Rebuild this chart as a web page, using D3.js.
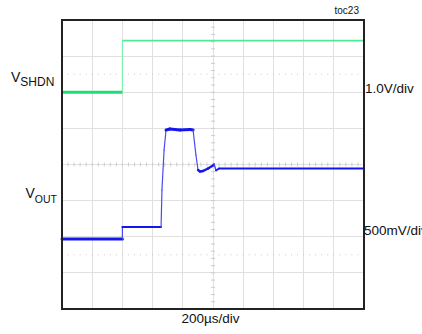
<!DOCTYPE html>
<html><head><meta charset="utf-8">
<script src="https://cdn.jsdelivr.net/npm/d3@7"></script>
<style>html,body{margin:0;padding:0;background:#fff;}svg{display:block;}</style>
</head><body>
<script>
// ---- data ----
const timeDivLabel = "200µs/div";
const shdnScaleLabel = "1.0V/div";
const outScaleLabel = "500mV/div";
const tocLabel = "toc23";
// V_SHDN trace: time (µs), volts
const shdnTime = [0, 400, 400, 2000];
const shdnVolt = [0, 0, 1.43, 1.43];
// V_OUT trace: time (µs), volts
const outTime = [0, 400, 400, 656, 662, 676, 689, 715, 781, 848, 868, 887, 901, 914, 934, 967, 1000, 1007, 1020, 1040, 2000];
const outVolt = [0, 0, 0.165, 0.165, 0.677, 1.231, 1.507, 1.521, 1.507, 1.514, 1.507, 1.161, 0.954, 0.933, 0.940, 0.975, 1.016, 1.037, 0.947, 0.975, 0.975];

// ---- layout ----
const W = 422, H = 334;
const L = 62, R = 364, T = 20, B = 309;
const nx = 10, ny = 8;
const shdnOffsetDiv = 6, shdnVPerDiv = 1.0;
const outOffsetDiv = 1.94, outVPerDiv = 0.5;

const svg = d3.select("body").append("svg").attr("width", W).attr("height", H);
const x = d3.scaleLinear().domain([0, 2000]).range([L, R]);
const xd = d3.scaleLinear().domain([0, nx]).range([L, R]);
const yd = d3.scaleLinear().domain([0, ny]).range([B, T]);

const g = svg.append("g");
// grid
g.selectAll(".vg").data(d3.range(1, nx)).join("line")
  .attr("x1", d => xd(d)).attr("x2", d => xd(d)).attr("y1", T).attr("y2", B)
  .attr("stroke", "#e0e0e0").attr("stroke-width", 1).attr("shape-rendering", "crispEdges");
g.selectAll(".hg").data(d3.range(1, ny)).join("line")
  .attr("y1", d => yd(d)).attr("y2", d => yd(d)).attr("x1", L).attr("x2", R)
  .attr("stroke", "#e0e0e0").attr("stroke-width", 1).attr("shape-rendering", "crispEdges");
// center ticks
const cx = xd(nx / 2), cy = yd(ny / 2);
g.selectAll(".tx").data(d3.range(0, nx * 5 + 1)).join("line")
  .attr("x1", d => xd(d / 5)).attr("x2", d => xd(d / 5)).attr("y1", cy - 2).attr("y2", cy + 2)
  .attr("stroke", "#cccccc").attr("stroke-width", 1);
g.selectAll(".ty").data(d3.range(0, ny * 5 + 1)).join("line")
  .attr("y1", d => yd(d / 5)).attr("y2", d => yd(d / 5)).attr("x1", cx - 2).attr("x2", cx + 2)
  .attr("stroke", "#cccccc").attr("stroke-width", 1);
// dotted lines
[1.5, 6.5].forEach(dv => {
  g.selectAll(null).data(d3.range(1, nx * 5)).join("rect")
    .attr("x", d => xd(d / 5) - 0.5).attr("y", yd(dv) - 0.5).attr("width", 1).attr("height", 1)
    .attr("fill", "#c8c8c8");
});

// traces
const line = d3.line().x(d => x(d[0])).y(d => d[1]);
const shdnPts = shdnTime.map((t, i) => [t, yd(shdnOffsetDiv + shdnVolt[i] / shdnVPerDiv)]);
const outPts = outTime.map((t, i) => [t, yd(outOffsetDiv + outVolt[i] / outVPerDiv)]);
// green: thin rising edge, light high level, thick low level
svg.append("path").attr("d", line(shdnPts.slice(1, 3))).attr("fill", "none")
  .attr("stroke", "#7ff0b0").attr("stroke-width", 1.2);
svg.append("path").attr("d", line(shdnPts.slice(2))).attr("fill", "none")
  .attr("stroke", "#4eea96").attr("stroke-width", 1.8);
svg.append("path").attr("d", line(shdnPts.slice(0, 2))).attr("fill", "none")
  .attr("stroke", "#22dd77").attr("stroke-width", 3);
// blue: per-segment widths (fast edges drawn thin, as on the scope)
const segW = [3, 1.2, 2, 1.2, 1.2, 1.2, 3, 3, 3, 3, 1.2, 1.2, 2.4, 2.4, 2.4, 2.4, 1.6, 1.4, 1.8, 2];
outPts.slice(0, -1).forEach((p, i) => {
  svg.append("path").attr("d", line([p, outPts[i + 1]])).attr("fill", "none")
    .attr("stroke", segW[i] < 1.5 ? "#4a4af2" : "#1515ee").attr("stroke-width", segW[i])
    .attr("stroke-linecap", "round");
});

// frame
svg.append("rect").attr("x", L).attr("y", T).attr("width", R - L).attr("height", B - T)
  .attr("fill", "none").attr("stroke", "#222").attr("stroke-width", 2);

// texts
const font = "Liberation Sans, Arial, sans-serif";
svg.append("text").attr("x", 359).attr("y", 14).attr("text-anchor", "end")
  .attr("font-family", font).attr("font-size", 10).attr("fill", "#111").text(tocLabel);
const t1 = svg.append("text").attr("x", 11).attr("y", 82).attr("font-family", font).attr("fill", "#111");
t1.append("tspan").attr("font-size", 14).text("V");
t1.append("tspan").attr("font-size", 12).attr("dy", 4).text("SHDN");
const t2 = svg.append("text").attr("x", 25.5).attr("y", 197.5).attr("font-family", font).attr("fill", "#111");
t2.append("tspan").attr("font-size", 14).text("V");
t2.append("tspan").attr("font-size", 10.5).attr("dy", 5).text("OUT");
svg.append("text").attr("x", 365).attr("y", 93).attr("font-family", font).attr("font-size", 13.5)
  .attr("fill", "#111").text(shdnScaleLabel);
svg.append("text").attr("x", 364).attr("y", 235).attr("font-family", font).attr("font-size", 13.5)
  .attr("fill", "#111").text(outScaleLabel);
svg.append("text").attr("x", 210.5).attr("y", 323).attr("text-anchor", "middle").attr("font-family", font)
  .attr("font-size", 13.5).attr("fill", "#111").text(timeDivLabel);
</script>
</body></html>
